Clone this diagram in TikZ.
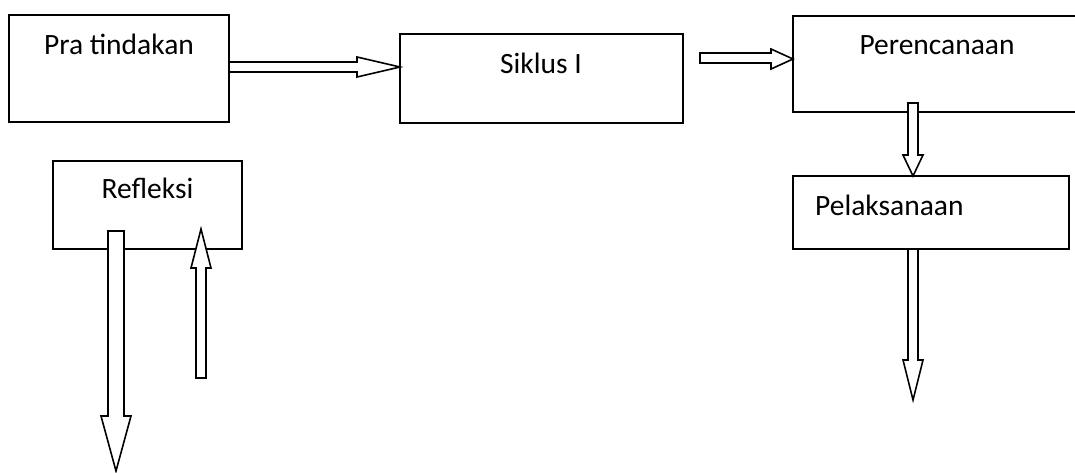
\documentclass[tikz,border=0pt]{standalone}
\usepackage{fontspec}
\setmainfont{Carlito}
\begin{document}
\begin{tikzpicture}[x=1pt,y=-1pt,
  box/.style={draw=black, line width=1.8pt, fill=white},
  txt/.style={font=\fontsize{29.5}{35}\selectfont, inner sep=0pt, anchor=base},
  barrow/.style={draw=black, fill=white, line width=1.6pt, line join=miter}]
\clip (0,0) rectangle (1075,472);
\fill[white] (0,0) rectangle (1075,472);
% boxes
\draw[box] (9,15) rectangle (229,122);
\node[txt] (tpra) at (119,54) {Pra tindakan};
\draw[box] (400,34) rectangle (683,123);
\node[txt] (tsik) at (541,73) {Siklus I};
\draw[box] (793,16) rectangle (1082,112);
\node[txt] (tper) at (937,54) {Perencanaan};
\draw[box] (793,176) rectangle (1069,249);
\node[txt, anchor=base west] (tpel) at (815,215) {Pelaksanaan};
\draw[box] (53,161) rectangle (242,249);
\node[txt] (tref) at (147.5,198) {Refleksi};
% block arrows
\draw[barrow] (229,62) -- (357,62) -- (357,57) -- (400,67) -- (357,77) -- (357,72) -- (229,72) -- cycle;
\draw[barrow] (700,53) -- (771,53) -- (771,49) -- (793,59) -- (771,69) -- (771,63) -- (700,63) -- cycle;
\draw[barrow] (908,103) -- (918,103) -- (918,155) -- (923,155) -- (913,176) -- (903,155) -- (908,155) -- cycle;
\draw[barrow] (908,249) -- (918,249) -- (918,360) -- (923,360) -- (913,400) -- (903,360) -- (908,360) -- cycle;
\draw[barrow] (108,231) -- (124,231) -- (124,416) -- (131,416) -- (116,471) -- (101,416) -- (108,416) -- cycle;
\draw[barrow] (196,378) -- (206,378) -- (206,268) -- (211,268) -- (201,229) -- (191,268) -- (196,268) -- cycle;
\end{tikzpicture}
\end{document}
